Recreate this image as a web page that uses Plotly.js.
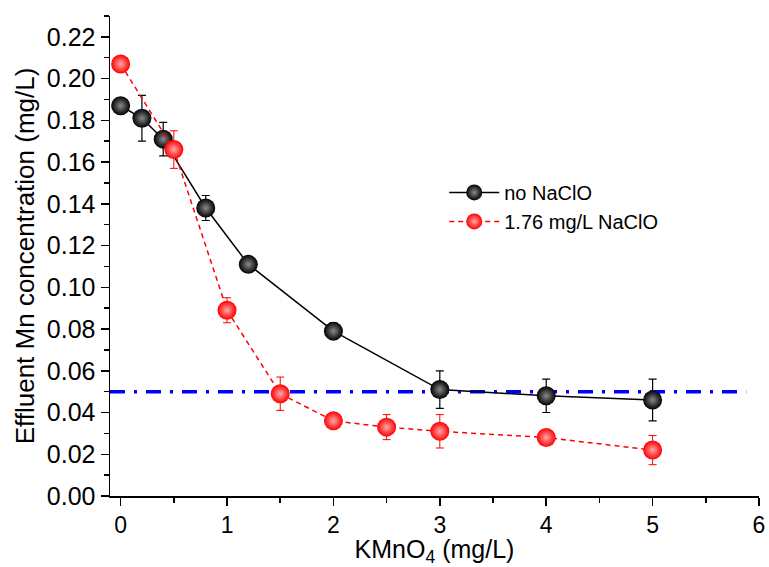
<!DOCTYPE html>
<html>
<head>
<meta charset="utf-8">
<script src="https://cdn.plot.ly/plotly-3.0.1.min.js"></script>
<style>html,body{margin:0;padding:0;background:#fff;}#chart{width:769px;height:567px;}</style>
</head>
<body>
<div id="chart"></div>
<script>
// KMnO4 dose (mg/L) and effluent Mn (mg/L)
const xNoNaClO = [0, 0.2, 0.4, 0.8, 1.2, 2, 3, 4, 5];
const yNoNaClO = [0.187, 0.181, 0.171, 0.138, 0.111, 0.079, 0.051, 0.048, 0.046];
const errNoNaClO = [0.002, 0.011, 0.008, 0.006, 0.001, 0.004, 0.009, 0.008, 0.010];

const xNaClO = [0, 0.5, 1, 1.5, 2, 2.5, 3, 4, 5];
const yNaClO = [0.207, 0.166, 0.089, 0.049, 0.036, 0.033, 0.031, 0.028, 0.022];
const errNaClO = [0.002, 0.009, 0.006, 0.008, 0.002, 0.006, 0.008, 0.002, 0.007];

const limitX = [-0.1, 5.88];
const limitY = [0.05, 0.05];

const seriesNames = ["no NaClO", "1.76 mg/L NaClO"];
const xTitle = "KMnO<sub>4</sub> (mg/L)";
const yTitle = "Effluent Mn concentration (mg/L)";

const FONT = '"Liberation Sans", Arial, sans-serif';

const traces = [
  {
    x: limitX, y: limitY, mode: 'lines', showlegend: false, hoverinfo: 'skip',
    line: {color: '#0000ff', width: 3.5, dash: '15px,9px,3px,9px'}
  },
  {
    x: xNoNaClO, y: yNoNaClO, name: seriesNames[0], mode: 'lines+markers',
    line: {color: '#000000', width: 1.5},
    marker: {size: 19, color: '#000000', gradient: {type: 'radial', color: '#8a8a8a'}},
    error_y: {type: 'data', array: errNoNaClO, visible: true, color: '#000000', thickness: 1.2, width: 4}
  },
  {
    x: xNaClO, y: yNaClO, name: seriesNames[1], mode: 'lines+markers',
    line: {color: '#ff0000', width: 1.5, dash: '5px,4px'},
    marker: {size: 19, color: '#ff0000', gradient: {type: 'radial', color: '#ffa8a8'}},
    error_y: {type: 'data', array: errNaClO, visible: true, color: '#ff0000', thickness: 1, width: 4}
  }
];

const layout = {
  width: 769, height: 567,
  margin: {l: 110, r: 10, t: 16, b: 71, pad: 0},
  paper_bgcolor: '#ffffff', plot_bgcolor: '#ffffff',
  font: {family: FONT, size: 22, color: '#000000'},
  showlegend: true,
  legend: {
    x: 0.515, y: 0.673, xanchor: 'left', yanchor: 'top',
    bgcolor: 'rgba(0,0,0,0)', borderwidth: 0,
    font: {family: FONT, size: 20, color: '#000000'},
    itemwidth: 50, tracegroupgap: 0
  },
  xaxis: {
    range: [-0.1, 6], dtick: 1, tick0: 0, automargin: 'bottom',
    showline: true, linecolor: '#000000', linewidth: 1.5, mirror: false,
    showgrid: false, zeroline: false,
    ticks: 'outside', ticklen: 8, tickwidth: 1.5, tickcolor: '#000000',
    minor: {dtick: 0.5, ticks: 'outside', ticklen: 5, tickwidth: 1.5, tickcolor: '#000000', showgrid: false},
    tickfont: {family: FONT, size: 23},
    title: {text: xTitle, font: {family: FONT, size: 25}, standoff: 2}
  },
  yaxis: {
    range: [0, 0.23], dtick: 0.02, tick0: 0, tickformat: '.2f',
    showline: true, linecolor: '#000000', linewidth: 1.5, mirror: false,
    showgrid: false, zeroline: false,
    ticks: 'outside', ticklen: 8, tickwidth: 1.5, tickcolor: '#000000',
    minor: {dtick: 0.01, ticks: 'outside', ticklen: 5, tickwidth: 1.5, tickcolor: '#000000', showgrid: false},
    tickfont: {family: FONT, size: 25},
    title: {text: yTitle, font: {family: FONT, size: 26}, standoff: 4}
  }
};

Plotly.newPlot('chart', traces, layout, {displayModeBar: false, staticPlot: true});
</script>
</body>
</html>
